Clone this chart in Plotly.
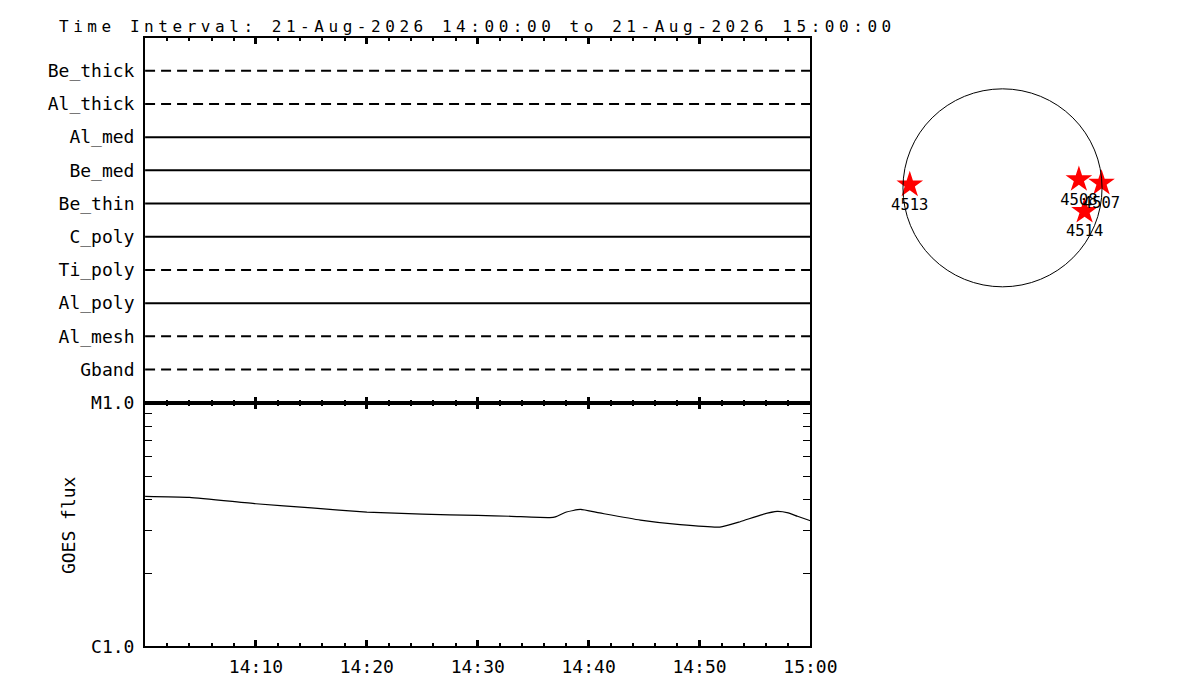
import plotly.graph_objects as go
import pandas as pd

# --- data ---
date_str = "2026-08-21"
t_start = "14:00:00"
t_end = "15:00:00"

channels = ["Be_thick", "Al_thick", "Al_med", "Be_med", "Be_thin",
            "C_poly", "Ti_poly", "Al_poly", "Al_mesh", "Gband"]
# True = drawn solid (channel in use), False = dashed
channel_active = [False, False, True, True, True, True, False, True, False, False]

goes_times = ["14:00:00", "14:04:00", "14:10:00", "14:15:00", "14:20:00", "14:25:00",
              "14:30:00", "14:33:00", "14:36:30", "14:37:00", "14:38:00", "14:39:15",
              "14:41:00", "14:44:40", "14:48:15", "14:51:50", "14:53:40", "14:55:30",
              "14:57:00", "14:58:00", "14:58:50", "15:00:00"]
goes_flux = [4.13e-6, 4.09e-6, 3.85e-6, 3.70e-6, 3.56e-6, 3.49e-6,
             3.45e-6, 3.42e-6, 3.38e-6, 3.40e-6, 3.56e-6, 3.65e-6,
             3.53e-6, 3.30e-6, 3.16e-6, 3.09e-6, 3.25e-6, 3.46e-6,
             3.58e-6, 3.53e-6, 3.42e-6, 3.28e-6]

x_tick_labels = ["14:10", "14:20", "14:30", "14:40", "14:50", "15:00"]
goes_class_vals = [1e-6, 1e-5]
goes_class_labels = ["C1.0", "M1.0"]

# active regions on the solar disk (arcsec)
ar_numbers = ["4513", "4508", "4507", "4514"]
ar_x = [-885, 729, 945, 783]
ar_y = [29, 80, 45, -225]
sun_radius = 950

FONT = "DejaVu Sans Mono"
W, H = 1200, 700
# the page shows the figure slightly shrunk and offset; positions below are
# given in window pixels and converted back to figure pixels
SX, SY = 0.977, 0.975
OX, OY = 8.0, 16.3

t0 = pd.Timestamp(f"{date_str} {t_start}")
t1 = pd.Timestamp(f"{date_str} {t_end}")
goes_dt = [pd.Timestamp(f"{date_str} {t}") for t in goes_times]
tick_dt = [pd.Timestamp(f"{date_str} {t}:00") for t in x_tick_labels]


def px_x(p):
    return (p - OX) / SX / W


def px_y(p):
    return 1 - (p - OY) / SY / H


fig = go.Figure()

# Channel lines (top panel)
for name, active in zip(channels, channel_active):
    fig.add_trace(go.Scatter(
        x=[t0, t1], y=[name, name], mode="lines",
        line=dict(color="black", width=2, dash="solid" if active else "10px,6px"),
        xaxis="x", yaxis="y", showlegend=False, hoverinfo="skip"
    ))

# GOES flux (bottom panel)
fig.add_trace(go.Scatter(
    x=goes_dt, y=goes_flux, mode="lines",
    line=dict(color="black", width=1.2, shape="spline", smoothing=0.5),
    xaxis="x2", yaxis="y2", showlegend=False
))

# Active regions on the disk
fig.add_trace(go.Scatter(
    x=ar_x, y=ar_y, mode="markers+text",
    marker=dict(symbol="star", size=20, color="red", line=dict(width=0)),
    text=ar_numbers, textposition="bottom center",
    textfont=dict(family=FONT, size=15.5, color="black"),
    xaxis="x3", yaxis="y3", showlegend=False
))

fig.add_shape(type="circle", xref="x3", yref="y3",
              x0=-sun_radius, x1=sun_radius, y0=-sun_radius, y1=sun_radius,
              line=dict(color="black", width=1))

time_axis = dict(
    type="date", range=[t0, t1], showgrid=False, zeroline=False,
    showline=True, linecolor="black", linewidth=2, mirror="ticks",
    ticks="inside", ticklen=6, tickwidth=3, tickcolor="black",
    tickvals=tick_dt, ticktext=x_tick_labels,
    minor=dict(dtick=120000, ticks="inside", ticklen=3, tickwidth=2, tickcolor="black", showgrid=False),
    domain=[px_x(145), px_x(810)],
)

half = 150
sun_scale = sun_radius / 99.5 * half

title = f"Time Interval: 21-Aug-2026 {t_start} to 21-Aug-2026 {t_end}"

fig.update_layout(
    width=W, height=H,
    margin=dict(l=0, r=0, t=0, b=0),
    paper_bgcolor="white", plot_bgcolor="white",
    font=dict(family=FONT, size=18, color="black"),
    xaxis=dict(time_axis, anchor="y", showticklabels=False),
    yaxis=dict(
        type="category", categoryorder="array", categoryarray=channels[::-1],
        range=[-1, len(channels)], domain=[px_y(402), px_y(35)],
        showgrid=False, zeroline=False, showline=True, linecolor="black",
        linewidth=2, mirror=True, ticks="", anchor="x",
        tickfont=dict(family=FONT, size=18), ticklabelstandoff=5,
    ),
    xaxis2=dict(time_axis, anchor="y2", tickfont=dict(family=FONT, size=18), ticklabelstandoff=3),
    yaxis2=dict(
        type="log", range=[-6, -5], domain=[px_y(647), px_y(402)],
        showgrid=False, zeroline=False, showline=True, linecolor="black",
        linewidth=2, mirror="ticks", ticks="inside", ticklen=1, tickwidth=1,
        tickcolor="black", tickvals=goes_class_vals, ticktext=goes_class_labels,
        minor=dict(tickvals=[k * 1e-6 for k in range(2, 10)], ticks="inside",
                   ticklen=7, tickwidth=1, tickcolor="black", showgrid=False),
        anchor="x2", tickfont=dict(family=FONT, size=18), ticklabelstandoff=5,
    ),
    xaxis3=dict(range=[-sun_scale, sun_scale], domain=[px_x(1002 - half), px_x(1002 + half)],
                visible=False, anchor="y3"),
    yaxis3=dict(range=[-sun_scale, sun_scale], domain=[px_y(186 + half), px_y(186 - half)],
                visible=False, anchor="x3"),
    annotations=[
        dict(text=f'<span style="letter-spacing:4.55px">{title}</span>',
             xref="paper", yref="paper", x=px_x(58), y=1, yshift=3,
             xanchor="left", yanchor="top", showarrow=False, borderpad=0,
             font=dict(family=FONT, size=16, color="black")),
        dict(text="GOES flux", xref="paper", yref="paper", x=px_x(68), y=px_y(525),
             textangle=-90, xanchor="center", yanchor="middle", showarrow=False,
             font=dict(family=FONT, size=18, color="black")),
    ],
)

fig.write_html("out.html")
